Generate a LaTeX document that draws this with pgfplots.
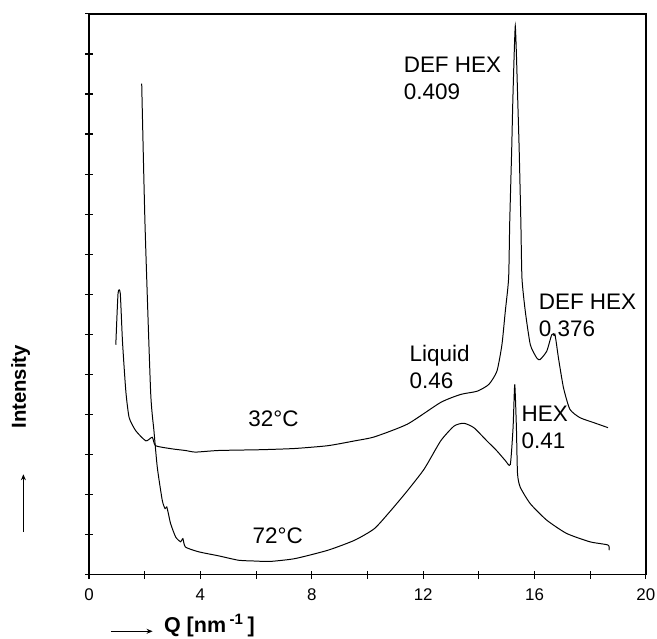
\documentclass[border=0pt]{standalone}
\usepackage{fontspec}
\setmainfont{Liberation Sans}
\usepackage{pgfplots}
\pgfplotsset{compat=1.18}
\usetikzlibrary{arrows.meta}

\begin{document}
\begin{tikzpicture}
\begin{axis}[
    scale only axis,
    width=280pt, height=282pt,
    xmin=0, xmax=20,
    ymin=0, ymax=14,
    xtick={0,2,...,20},
    xticklabels={0,,4,,8,,12,,16,,20},
    ytick={0,1,...,14},
    yticklabels={},
    xtick pos=bottom,
    ytick pos=left,
    tick align=center,
    major tick length=4pt,
    axis line style={line width=0.8pt},
    every tick/.style={black, line width=0.6pt},
    ticklabel style={font=\fontsize{8.5}{10}\selectfont},
    /pgf/number format/assume math mode=true,
    xticklabel style={yshift=-1.5pt},
    clip=false,
]

% 72 C
\addplot[black, line width=0.5pt, smooth, tension=0.35] coordinates {
    (1.89,12.26) (2.01,8.72) (2.21,4.58) (2.33,3.59) (2.45,2.68)
    (2.63,1.85) (2.73,1.65) (2.79,1.69) (2.85,1.52) (2.93,1.27)
    (3.11,0.94) (3.29,0.82) (3.37,0.90) (3.46,0.69) (3.94,0.57)
    (4.65,0.47) (5.37,0.36) (5.96,0.34) (6.5,0.33) (7.39,0.40)
    (8.58,0.61) (9.54,0.86) (10.25,1.15) (10.85,1.61) (11.44,2.10)
    (12.04,2.64) (12.63,3.34) (13.11,3.71) (13.46,3.78) (13.82,3.67)
    (14.29,3.34) (14.65,3.09) (14.95,2.85) (15.13,2.75) (15.23,3.67)
    (15.29,4.75) (15.35,3.67) (15.39,2.52) (15.49,2.18) (15.85,1.77)
    (16.44,1.36) (17.15,1.03) (17.99,0.82) (18.64,0.74) (18.68,0.61)
};

% 32 C
\addplot[black, line width=0.5pt, smooth, tension=0.35] coordinates {
    (0.96,5.74) (1.04,7.02) (1.12,7.02) (1.20,5.82) (1.32,4.58)
    (1.44,3.92) (1.68,3.59) (2.04,3.34) (2.27,3.43) (2.39,3.22)
    (2.99,3.14) (3.46,3.10) (3.82,3.06) (4.65,3.10) (6.19,3.12)
    (7.39,3.15) (8.58,3.22) (9.54,3.34) (10.25,3.44) (11.44,3.76)
    (12.63,4.30) (13.35,4.50) (13.94,4.58) (14.36,4.75) (14.65,5.08)
    (14.83,5.74) (14.95,6.57) (15.07,7.40) (15.11,8.80) (15.18,10.60)
    (15.22,11.80) (15.27,13.00) (15.31,13.70) (15.35,13.00) (15.40,11.80)
    (15.45,10.60) (15.51,8.80) (15.55,7.40) (15.67,6.57) (15.85,5.74)
    (16.08,5.41) (16.20,5.37) (16.44,5.58) (16.62,5.99) (16.74,5.97)
    (16.86,5.41) (17.04,4.67) (17.27,4.13) (17.63,3.92) (18.11,3.80)
    (18.64,3.67)
};

\begin{scope}[every node/.style={anchor=north west, inner sep=0pt, align=left,
    font=\fontsize{11.3}{13.5}\selectfont}]
\node at (axis cs:11.29,12.93) {DEF HEX\\0.409};
\node at (axis cs:16.14,7.02) {DEF HEX\\0.376};
\node at (axis cs:11.50,5.74) {Liquid\\0.46};
\node at (axis cs:15.52,4.21) {HEX\\0.41};
\node at (axis cs:5.71,4.10) {32°C};
\node at (axis cs:5.86,1.19) {72°C};
\end{scope}

% axis labels with arrows
\node[rotate=90, anchor=center, inner sep=0pt, font=\fontsize{10.2}{12}\selectfont\bfseries]
    at (axis description cs:-0.123,0.335) {Intensity};
\draw[line width=0.5pt, -{Stealth[length=3pt,width=2.5pt]}]
    (axis description cs:-0.118,0.076) -- (axis description cs:-0.118,0.179);
\node[anchor=base west, inner sep=0pt, font=\fontsize{10.8}{12}\selectfont\bfseries]
    at (axis description cs:0.134,-0.103) {Q [nm\,\textsuperscript{-1}\,]};
\draw[line width=0.5pt, -{Stealth[length=3pt,width=2.5pt]}]
    (axis description cs:0.039,-0.101) -- (axis description cs:0.114,-0.101);

\coordinate (bbsw) at (axis description cs:-0.16,-0.1135);
\coordinate (bbne) at (axis description cs:1.02,1.0248);
\end{axis}
\pgfresetboundingbox
\path[use as bounding box] (bbsw) rectangle (bbne);
\end{tikzpicture}
\end{document}
